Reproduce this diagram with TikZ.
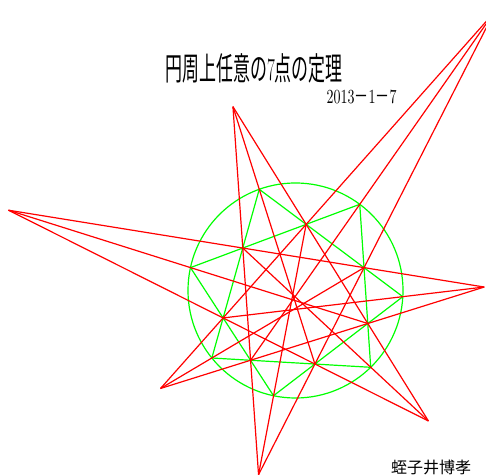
\documentclass[tikz,border=0pt]{standalone}
\usepackage{fontspec}
\newfontfamily\jpfont{Noto Sans CJK JP}
\usetikzlibrary{calc}
\begin{document}
\begin{tikzpicture}[x=0.5pt, y=0.5pt, line width=0.6pt]
\useasboundingbox (0,0) rectangle (486,475);
\coordinate (C) at (295.5,184.5);
% seven points on the circle
\foreach \i/\a in {1/109.7,2/53.3,3/-3.3,4/-45.6,5/-101.8,6/-141.1,7/167.7}
  \coordinate (P\i) at ($(C)+(\a:107.5)$);
% inner points of the star
\foreach \i/\a/\b/\c in {1/7/2/3,2/1/3/4,3/2/4/5,4/3/5/6,5/4/6/7,6/5/7/1,7/6/1/2}
  \coordinate (Q\i) at (intersection cs:first line={(P\a)--(P\b)}, second line={(P\i)--(P\c)});
% outer points
\foreach \i/\a/\b/\c in {1/3/4/6,2/4/5/7,3/5/6/1,4/6/7/2,5/7/1/3,6/1/2/4,7/2/3/5}
  \coordinate (O\i) at (intersection cs:first line={(Q\i)--(Q\a)}, second line={(Q\b)--(Q\c)});

\draw[green] (C) circle (107.5);
\draw[green] (P1) -- (P3) -- (P5) -- (P7) -- (P2) -- (P4) -- (P6) -- cycle;

% long lines through the inner points
\foreach \i/\j in {1/5,2/6,3/7,4/1,5/2,6/3,7/4}
  \draw[red] (O\i) -- (O\j);
% lines through the points on the circle
\foreach \i/\j in {1/7,2/1,3/2,4/3,5/4,6/5,7/6}
  \draw[red] (O\i) -- (Q\j);

% title, date, name
\node[inner sep=0] (title) at (254,407)
  {\fontsize{16pt}{16pt}\selectfont\scalebox{0.53}[1]{\jpfont 円周上任意の{\rmfamily 7}点の定理}};
\node[inner sep=0] (date) at (361.5,378)
  {\fontsize{10pt}{10pt}\selectfont\scalebox{0.7}[1]{2013{\jpfont －}1{\jpfont －}7}};
\node[inner sep=0] (name) at (431,8) {\fontsize{8pt}{8pt}\selectfont\jpfont 蛭子井博孝};
\end{tikzpicture}
\end{document}
